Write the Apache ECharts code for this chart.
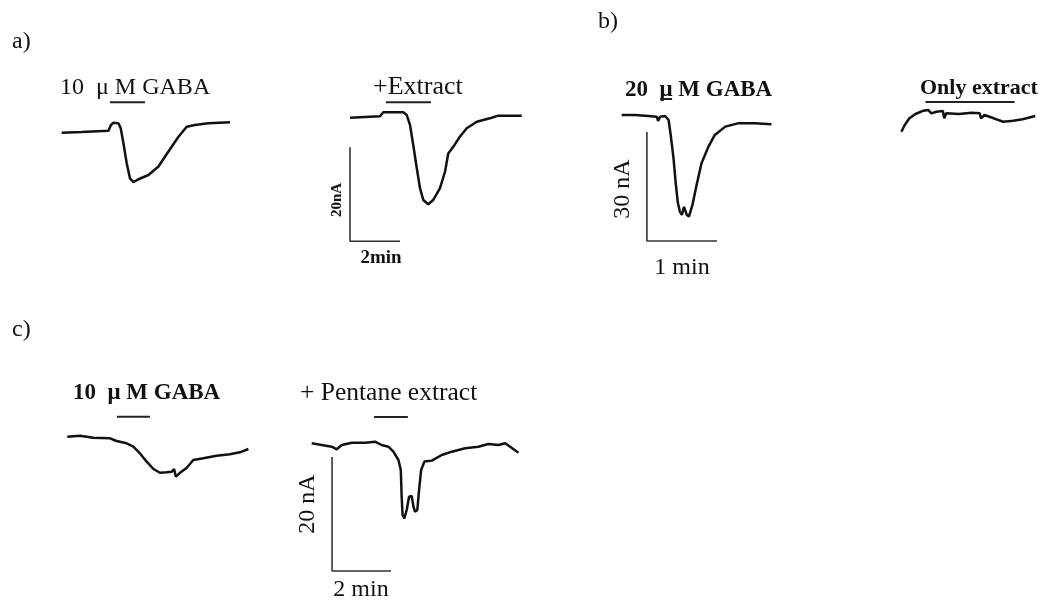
<!DOCTYPE html>
<html>
<head>
<meta charset="utf-8">
<script src="https://cdn.jsdelivr.net/npm/echarts@6/dist/echarts.min.js"></script>
<style>
  html, body { margin: 0; padding: 0; background: #fff; }
  #chart { width: 1042px; height: 604px; }
</style>
</head>
<body>
<div id="chart"></div>
<script>
// traces: [time (min), current (nA)]
const traceA1 = [[0,0],[0.8,0.15],[1.87,0.43],[1.97,1.64],[2.07,2.13],[2.27,2.0],[2.36,0.94],[2.47,-2.26],[2.6,-6.5],[2.73,-9.7],[2.87,-10.5],[3.07,-9.9],[3.47,-9.0],[3.87,-7.2],[4.27,-4.0],[4.67,-0.85],[5.0,1.28],[5.33,1.64],[5.86,2.0],[6.73,2.2]];
const traceA2 = [[0,0],[0.6,0.15],[1.2,0.3],[1.33,1.15],[2.13,1.15],[2.27,0.57],[2.4,-1.55],[2.53,-5.8],[2.67,-10.7],[2.8,-15.0],[2.93,-17.5],[3.13,-18.4],[3.33,-17.5],[3.6,-15.0],[3.8,-11.5],[3.93,-7.6],[4.13,-6.2],[4.4,-4.0],[4.67,-2.26],[5.07,-0.85],[5.67,0],[5.93,0.43],[6.87,0.43]];
const traceB1 = [[0,0],[0.19,0],[0.38,-0.28],[0.5,-0.46],[0.52,-1.65],[0.55,-0.46],[0.62,-0.28],[0.67,-1.38],[0.7,-5.5],[0.74,-11.9],[0.77,-18.4],[0.8,-23.9],[0.83,-26.6],[0.86,-27.5],[0.89,-25.3],[0.93,-27.5],[0.96,-28.0],[1.01,-24.8],[1.07,-19.3],[1.14,-13.3],[1.24,-8.7],[1.33,-5.5],[1.48,-3.2],[1.66,-2.3],[1.9,-2.3],[2.14,-2.57]];
const traceB2 = [[0,-4.6],[0.05,-2.75],[0.12,-0.91],[0.21,0.28],[0.33,1.19],[0.4,1.38],[0.45,0.46],[0.52,0.91],[0.62,1.1],[0.64,-0.91],[0.67,0.46],[0.86,0.28],[1.05,0.63],[1.17,0.46],[1.19,-0.91],[1.24,0],[1.38,-0.91],[1.52,-1.85],[1.67,-1.57],[1.81,-1.19],[2.0,-0.28]];
const traceC1 = [[0,0],[0.43,0.18],[0.88,-0.18],[1.45,-0.28],[1.67,-0.75],[2.01,-1.16],[2.24,-1.75],[2.46,-2.91],[2.69,-4.39],[2.92,-5.67],[3.14,-6.32],[3.37,-6.25],[3.54,-6.14],[3.62,-5.67],[3.68,-7.02],[3.8,-6.42],[4.05,-5.44],[4.27,-4.09],[4.61,-3.79],[5.06,-3.33],[5.51,-3.09],[5.85,-2.74],[6.14,-2.16]];
const traceC2 = [[0,0],[0.34,-0.3],[0.68,-0.6],[0.85,-1.05],[1.02,-0.3],[1.36,0.11],[1.81,0.11],[2.15,0.28],[2.37,-0.3],[2.6,-0.6],[2.77,-1.47],[2.94,-2.93],[3.02,-4.68],[3.05,-9.37],[3.08,-12.58],[3.14,-13.16],[3.22,-11.7],[3.3,-9.37],[3.39,-9.25],[3.45,-11.12],[3.5,-12.0],[3.58,-11.7],[3.64,-8.19],[3.71,-4.68],[3.82,-3.21],[4.07,-3.04],[4.41,-2.05],[4.75,-1.47],[5.2,-0.88],[5.65,-0.6],[5.99,-0.12],[6.33,-0.3],[6.56,0],[7.01,-1.65]];

// application bars: [start, end, level]
const stimA1 = [1.93, 3.33, 6.5];
const stimA2 = [1.44, 3.24, 3.3];
const stimB1 = [0.55, 0.72, 4.4];
const stimB2 = [0.36, 1.69, 3.6];
const stimC1 = [1.68, 2.8, 3.5];
const stimC2 = [2.11, 3.26, 4.6];

// scale bars: [t, top, bottom, length (min)]
const scaleA = [0, -6.3, -26.3, 2];
const scaleB = [0.36, -4.7, -34.7, 1];
const scaleC = [0.69, -2.4, -22.4, 2];

// panel layout: pixel origin of (t=0, I=0) and px per min / px per nA
const panels = [
  { trace: traceA1, stim: stimA1, x0: 61.7, y0: 132.7, pxT: 25, pxI: 4.7, t: [-0.2, 7.2], i: [-12, 8] },
  { trace: traceA2, stim: stimA2, scale: scaleA, x0: 350, y0: 117.7, pxT: 25, pxI: 4.7, t: [-0.2, 7.2], i: [-28, 5] },
  { trace: traceB1, stim: stimB1, scale: scaleB, x0: 621.7, y0: 115, pxT: 70, pxI: 3.63, t: [0, 2.3], i: [-36, 6] },
  { trace: traceB2, stim: stimB2, x0: 901.7, y0: 115, pxT: 70, pxI: 3.63, t: [-0.1, 2.1], i: [-6, 5] },
  { trace: traceC1, stim: stimC1, x0: 67.3, y0: 436.7, pxT: 29.5, pxI: 5.7, t: [-0.1, 6.3], i: [-8, 5] },
  { trace: traceC2, stim: stimC2, scale: scaleC, x0: 311.7, y0: 443.3, pxT: 29.5, pxI: 5.7, t: [-0.1, 7.1], i: [-24, 6] },
];

const grid = [], xAxis = [], yAxis = [], series = [];
panels.forEach((p, k) => {
  grid.push({
    left: p.x0 + p.t[0] * p.pxT,
    width: (p.t[1] - p.t[0]) * p.pxT,
    top: p.y0 - p.i[1] * p.pxI,
    height: (p.i[1] - p.i[0]) * p.pxI,
  });
  xAxis.push({ type: 'value', gridIndex: k, min: p.t[0], max: p.t[1], show: false });
  yAxis.push({ type: 'value', gridIndex: k, min: p.i[0], max: p.i[1], show: false });
  series.push({
    type: 'line', xAxisIndex: k, yAxisIndex: k, data: p.trace, showSymbol: false,
    lineStyle: { color: '#111', width: 2.5 }, silent: true,
  });
  series.push({
    type: 'line', xAxisIndex: k, yAxisIndex: k, showSymbol: false,
    data: [[p.stim[0], p.stim[2]], [p.stim[1], p.stim[2]]],
    lineStyle: { color: '#222', width: 2 }, silent: true,
  });
  if (p.scale) {
    const s = p.scale;
    series.push({
      type: 'line', xAxisIndex: k, yAxisIndex: k, showSymbol: false,
      data: [[s[0], s[1]], [s[0], s[2]], [s[0] + s[3], s[2]]],
      lineStyle: { color: '#333', width: 1.6 }, silent: true,
    });
  }
});

const serif = '"Liberation Serif", "Times New Roman", serif';
const label = (text, x, y, size, opts = {}) => ({
  type: 'text', x, y, rotation: opts.rot || 0,
  style: {
    text, fill: '#111',
    font: `${opts.bold ? 'bold ' : ''}${size}px ${serif}`,
    align: opts.align || 'left', verticalAlign: 'middle',
  },
});

const graphic = [
  label('a)', 12, 42, 24),
  label('b)', 598, 22, 24),
  label('c)', 12, 330, 24),
  label('10  μ M GABA', 60, 88, 24),
  label('+Extract', 373, 87, 26),
  label('20nA', 337, 200, 15, { bold: true, rot: Math.PI / 2, align: 'center' }),
  label('2min', 381, 258, 19, { bold: true, align: 'center' }),
  label('20  μ M GABA', 625, 90, 23, { bold: true }),
  label('30 nA', 623, 189, 24, { rot: Math.PI / 2, align: 'center' }),
  label('1 min', 682, 268, 24, { align: 'center' }),
  label('Only extract', 920, 88, 22, { bold: true }),
  label('10  μ M GABA', 73, 393, 23, { bold: true }),
  label('+ Pentane extract', 300, 393, 25.5),
  label('20 nA', 308, 504, 24, { rot: Math.PI / 2, align: 'center' }),
  label('2 min', 361, 590, 24, { align: 'center' }),
];

const chart = echarts.init(document.getElementById('chart'));
chart.setOption({
  animation: false,
  backgroundColor: '#fff',
  grid, xAxis, yAxis, series, graphic,
});
</script>
</body>
</html>
